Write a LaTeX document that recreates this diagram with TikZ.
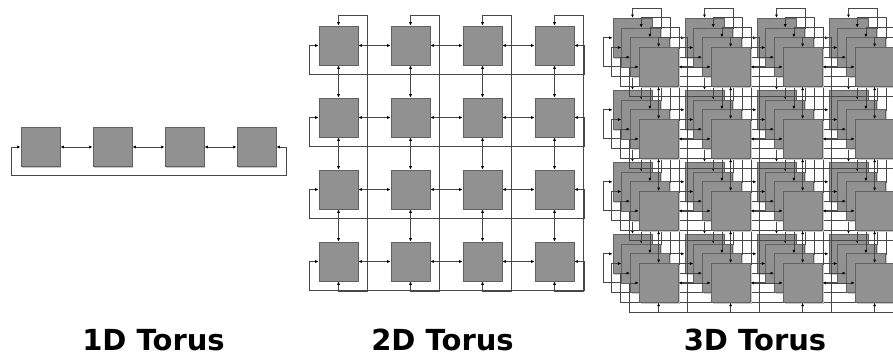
\documentclass[tikz,border=0pt]{standalone}
\usepackage{fontspec}
\newfontfamily\labelfont{DejaVu Sans}
\usetikzlibrary{arrows.meta,shadows}

\begin{document}
\begin{tikzpicture}[x=1pt, y=-1pt,
        box/.style={draw=black!62, fill=black!43, line width=0.8pt, minimum size=39pt, inner sep=0pt,
            general shadow={fill=black!22, shadow xshift=1.4pt, shadow yshift=-1.4pt}},
        link/.style={draw=black!72, line width=0.7pt,
            {Latex[length=3.4pt,width=3pt,black]}-{Latex[length=3.4pt,width=3pt,black]}},
        title/.style={font=\labelfont\bfseries\fontsize{29}{32}\selectfont, anchor=base}]
        \useasboundingbox (0,0) rectangle (893,356);
        \clip (0,0) rectangle (893,356);

        % 1D torus
        \foreach \c in {1,...,4} {
            \node[box] (a\c) at ({40.5+72*(\c-1)},147) {};
        }
        \foreach \c [evaluate=\c as \n using int(\c+1)] in {1,2,3} {
            \draw[link] (a\c.east) -- (a\n.west);
        }
        \draw[link] (a4.east) -- ++(10,0) -- ++(0,28) -| ([xshift=-9.5pt]a1.west) -- (a1.west);

        % 2D torus
        \foreach \r in {1,...,4} {
            \foreach \c in {1,...,4} {
                \node[box] (b\r-\c) at ({338.5+72*(\c-1)},{45.5+72*(\r-1)}) {};
            }
        }
        \foreach \r in {1,...,4} {
            \foreach \c [evaluate=\c as \n using int(\c+1)] in {1,2,3} {
                \draw[link] (b\r-\c.east) -- (b\r-\n.west);
                \draw[link] (b\c-\r.south) -- (b\n-\r.north);
            }
            \draw[link] (b\r-4.east) -- ++(9.5,0) -- ++(0,29) -| ([xshift=-9.5pt]b\r-1.west) -- (b\r-1.west);
            \draw[link] (b1-\r.north) -- ++(0,-10) -- ++(29,0) |- ([yshift=-10pt]b4-\r.south) -- (b4-\r.south);
        }

        % 3D torus: four 2D layers, back to front
        \foreach \l in {0,...,3} {
            \foreach \r in {1,...,4} {
                \foreach \c in {1,...,4} {
                    \node[box] (c\l-\r-\c) at ({632.5+8.7*\l+72*(\c-1)},{37.8+9.7*\l+72*(\r-1)}) {};
                }
            }
            \foreach \r in {1,...,4} {
                \foreach \c [evaluate=\c as \n using int(\c+1)] in {1,2,3} {
                    \draw[link] (c\l-\r-\c.east) -- (c\l-\r-\n.west);
                    \draw[link] (c\l-\c-\r.south) -- (c\l-\n-\r.north);
                }
                \draw[link] (c\l-\r-4.east) -- ++(9.5,0) -- ++(0,29) -| ([xshift=-9.5pt]c\l-\r-1.west) -- (c\l-\r-1.west);
                \draw[link] (c\l-1-\r.north) -- ++(0,-10) -- ++(29,0) |- ([yshift=-10pt]c\l-4-\r.south) -- (c\l-4-\r.south);
            }
        }

        % captions
        \node[title] (t1) at (153.5,350) {1D Torus};
        \node[title] (t2) at (442.5,350) {2D Torus};
        \node[title] (t3) at (755,350) {3D Torus};
\end{tikzpicture}
\end{document}
